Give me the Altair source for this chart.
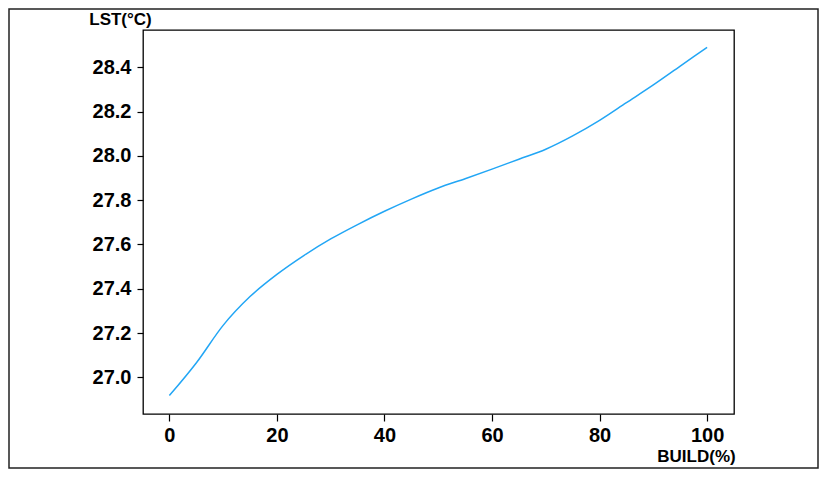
import altair as alt
import pandas as pd

build = [0, 5, 10, 15, 20, 25, 30, 35, 40, 45, 50, 55, 60, 65, 70, 75, 80, 85, 90, 95, 100]
lst = [26.918, 27.065, 27.235, 27.365, 27.465, 27.55, 27.625, 27.69, 27.75, 27.805, 27.855,
       27.897, 27.94, 27.985, 28.03, 28.09, 28.16, 28.24, 28.32, 28.405, 28.49]

x_ticks = [0, 20, 40, 60, 80, 100]
y_ticks = [27.0, 27.2, 27.4, 27.6, 27.8, 28.0, 28.2, 28.4]

df = pd.DataFrame({"build": build, "lst": lst})

FONT = "Liberation Sans"

line = alt.Chart(df).mark_line(
    color="#22a6f5", strokeWidth=1.5, interpolate="monotone"
).encode(
    x=alt.X("build:Q",
            scale=alt.Scale(domain=[-4.9, 105], nice=False, zero=False),
            axis=alt.Axis(values=x_ticks, title="BUILD(%)", grid=False, domain=False,
                          tickColor="black", tickSize=7, tickWidth=1.2,
                          labelFont=FONT, labelFontSize=20, labelFontWeight="bold",
                          labelColor="black", labelPadding=4,
                          titleFont=FONT, titleFontSize=17, titleFontWeight="bold",
                          titleColor="black", titleX=553, titleY=42,
                          titleAlign="center", titleBaseline="middle")),
    y=alt.Y("lst:Q",
            scale=alt.Scale(domain=[26.835, 28.568], nice=False, zero=False),
            axis=alt.Axis(values=y_ticks, format=".1f", title="LST(°C)", grid=False,
                          domain=False, tickColor="black", tickSize=6, tickWidth=1.2,
                          labelFont=FONT, labelFontSize=20, labelFontWeight="bold",
                          labelColor="black", labelPadding=6,
                          titleFont=FONT, titleFontSize=17, titleFontWeight="bold",
                          titleColor="black", titleAngle=0, titleX=-23, titleY=-11,
                          titleAlign="center", titleBaseline="middle")),
)

frame = alt.Chart(pd.DataFrame({"a": [0]})).mark_rect(
    filled=False, stroke="#222222", strokeWidth=1.5, clip=False
).encode(
    x=alt.value(-134), x2=alt.value(675),
    y=alt.value(-21), y2=alt.value(438),
)

chart = alt.layer(frame, line).properties(
    width=591, height=384,
    padding={"left": 135, "top": 22, "right": 85, "bottom": 55},
    autosize=alt.AutoSizeParams(type="none"),
).configure_view(stroke="black", strokeWidth=1.3)

chart.save("out.html", embed_options={"renderer": "svg", "actions": False})
